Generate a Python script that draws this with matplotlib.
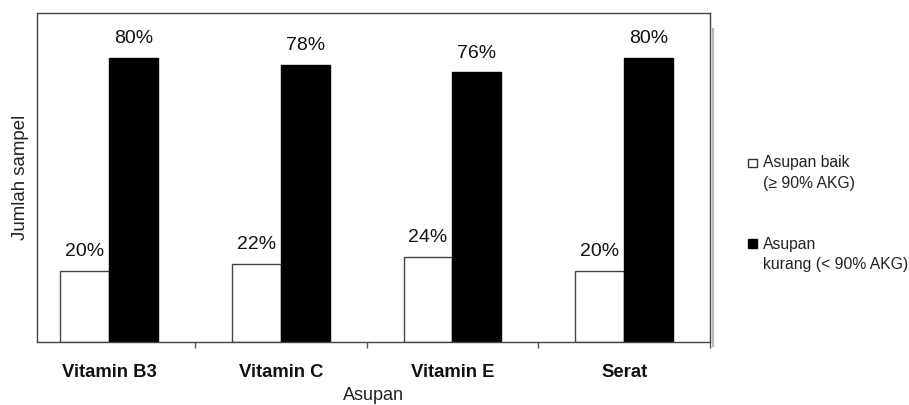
import matplotlib
matplotlib.use("Agg")
import matplotlib.pyplot as plt
from matplotlib.patches import Rectangle
from matplotlib.lines import Line2D
import numpy as np

plt.rcParams['font.family'] = ['Liberation Sans', 'DejaVu Sans']

categories = ["Vitamin B3", "Vitamin C", "Vitamin E", "Serat"]
asupan_baik = [20, 22, 24, 20]       # ≥ 90% AKG
asupan_kurang = [80, 78, 76, 80]     # < 90% AKG
legend_baik = ["Asupan baik", "(≥ 90% AKG)"]
legend_kurang = ["Asupan", "kurang (< 90% AKG)"]

W, H = 909, 405
fig = plt.figure(figsize=(W / 100, H / 100), dpi=100)
ax = fig.add_axes([37 / W, 1 - 342 / H, (710 - 37) / W, (342 - 12.5) / H])

x = np.arange(len(categories))
bw = 0.285
edge = "#444444"
b1 = ax.bar(x - bw / 2, asupan_baik, bw, color="white", edgecolor=edge, linewidth=1.0)
b2 = ax.bar(x + bw / 2, asupan_kurang, bw, color="black", edgecolor="black", linewidth=1.0)

for bars, vals in ((b1, asupan_baik), (b2, asupan_kurang)):
    for r, v in zip(bars, vals):
        ax.annotate(f"{v}%", (r.get_x() + r.get_width() / 2, v),
                    xytext=(0, 10.5), textcoords="offset points",
                    ha="center", va="baseline", fontsize=14, color="#111111")

ax.set_xlim(-0.42, 3.49)
ax.set_ylim(0, 92.8)
ax.set_yticks([])
ax.set_xticks(x)
ax.set_xticklabels(categories, fontsize=13.3, fontweight="bold", color="#111111")
ax.tick_params(axis="x", which="major", length=0, pad=16)
ax.set_xticks(list(x + 0.5), minor=True)
ax.tick_params(axis="x", which="minor", length=4, width=1, color="#555555", direction="out")
ax.set_xlabel("Asupan", fontsize=13, color="#222222", labelpad=4)
ax.set_ylabel("Jumlah sampel", fontsize=13.4, color="#222222", labelpad=6)
for s in ax.spines.values():
    s.set_color("#444444")
    s.set_linewidth(1.0)

# light shadow line along the right edge of the plot frame
fig.add_artist(Line2D([712.5 / W, 712.5 / W], [1 - 29 / H, 1 - 346 / H],
                      transform=fig.transFigure, color="#b8b8b8", linewidth=1.6))

# legend drawn beside the plot
fig.add_artist(Rectangle((748.3 / W, 1 - 166.5 / H), 8.4 / W, 7.7 / H, transform=fig.transFigure,
                         facecolor="white", edgecolor="#333333", linewidth=1.0))
fig.add_artist(Rectangle((747.7 / W, 1 - 248.3 / H), 9.6 / W, 9.3 / H, transform=fig.transFigure,
                         facecolor="black", edgecolor="black", linewidth=1.0))
legend_lines = [(legend_baik[0], 166.5), (legend_baik[1], 188),
                (legend_kurang[0], 248.5), (legend_kurang[1], 269)]
for txt, base in legend_lines:
    fig.text(763 / W, 1 - base / H, txt, fontsize=11.3, va="baseline", ha="left",
             color="#222222")

fig.savefig("out.png", dpi=100)
